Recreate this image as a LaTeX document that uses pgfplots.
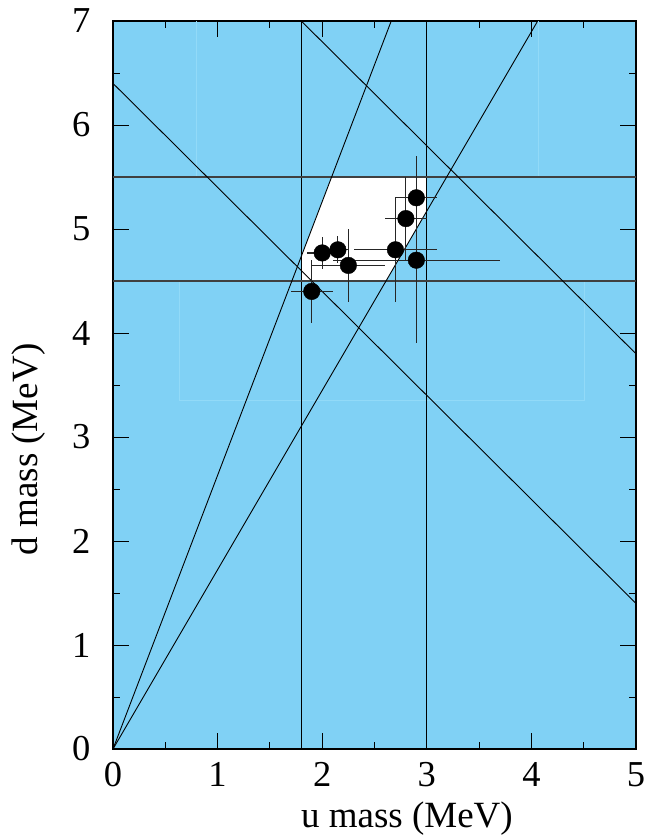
\documentclass[border=0pt]{standalone}
\usepackage{fontspec}
\setmainfont{Liberation Serif}
\usepackage{pgfplots}
\pgfplotsset{compat=1.18}
\definecolor{skyb}{RGB}{128,209,245}
\definecolor{skyl}{RGB}{146,218,248}
\begin{document}
\begin{tikzpicture}
\begin{axis}[
  at={(113bp,-749bp)}, anchor=south west,
  scale only axis, width=523bp, height=728bp,
  xmin=0,xmax=5,ymin=0,ymax=7,
  xtick={0,1,2,3,4,5}, ytick={0,1,2,3,4,5,6,7},
  minor tick num=1,
  major tick length=16bp, minor tick length=7bp,
  tick align=inside,
  every tick/.style={black, line width=1bp},
  axis line style={black, line width=1.3bp},
  axis background/.style={fill=skyb},
  /pgf/number format/assume math mode=true,
  tick label style={font=\fontsize{36.5bp}{42bp}\selectfont},
  xticklabel style={inner sep=0pt, anchor=north, yshift=-13bp},
  yticklabel style={inner sep=0pt, anchor=east, xshift=-22.5bp},
  label style={font=\fontsize{37bp}{44bp}\selectfont},
  xlabel={u mass (MeV)},
  ylabel={d mass (MeV)},
  xlabel style={at={(axis description cs:0.562,-0.0955)}, anchor=center},
  ylabel style={at={(axis description cs:-0.1606,0.4114)}, anchor=center},
]
% allowed region
\addplot[fill=white, draw=none] coordinates {(1.8,4.5) (2.61,4.5) (3.0,5.1724) (3.0,5.5) (2.09,5.5) (1.8,4.7368)} -- cycle;
% faint artefact lines
\addplot[skyl, line width=1bp] coordinates {(0.8,7) (0.8,5.5)};
\addplot[skyl, line width=1bp] coordinates {(4.07,7) (4.07,5.5)};
\addplot[skyl, line width=1bp] coordinates {(0.64,4.5) (0.64,3.35) (4.51,3.35) (4.51,4.5)};
% constraint lines
\addplot[black, line width=0.9bp] coordinates {(1.8,0) (1.8,7)};
\addplot[black, line width=0.9bp] coordinates {(3,0) (3,7)};
\addplot[black!75, line width=1.5bp] coordinates {(0,4.5) (5,4.5)};
\addplot[black!75, line width=1.5bp] coordinates {(0,5.5) (5,5.5)};
\addplot[black, line width=0.9bp] coordinates {(0,6.4) (5,1.4)};
\addplot[black, line width=0.9bp] coordinates {(1.8,7) (5,3.8)};
\addplot[black, line width=0.9bp] coordinates {(0,0) (2.66,7)};
\addplot[black, line width=0.9bp] coordinates {(0,0) (4.06,7)};
% measurements
\addplot[only marks, mark=*, mark size=8.3bp, black,
  error bars/.cd, x dir=both, x explicit, y dir=both, y explicit,
  error mark=none, error bar style={line width=1.2bp, black!85}]
  coordinates {
  (1.9,4.4) +- (0.2,0.3)
  (2.0,4.77) +- (0.15,0.15)
  (2.15,4.8) +- (0.1,0.13)
  (2.25,4.65) +- (0.35,0.35)
  (2.7,4.8) +- (0.4,0.5)
  (2.8,5.1) +- (0.2,0.4)
  (2.9,5.3) +- (0.2,0.4)
  (2.9,4.7) +- (0.8,0.8)
  };
\end{axis}
\pgfresetboundingbox
\path (0,0) rectangle (661bp,-837bp);
\end{tikzpicture}
\end{document}
